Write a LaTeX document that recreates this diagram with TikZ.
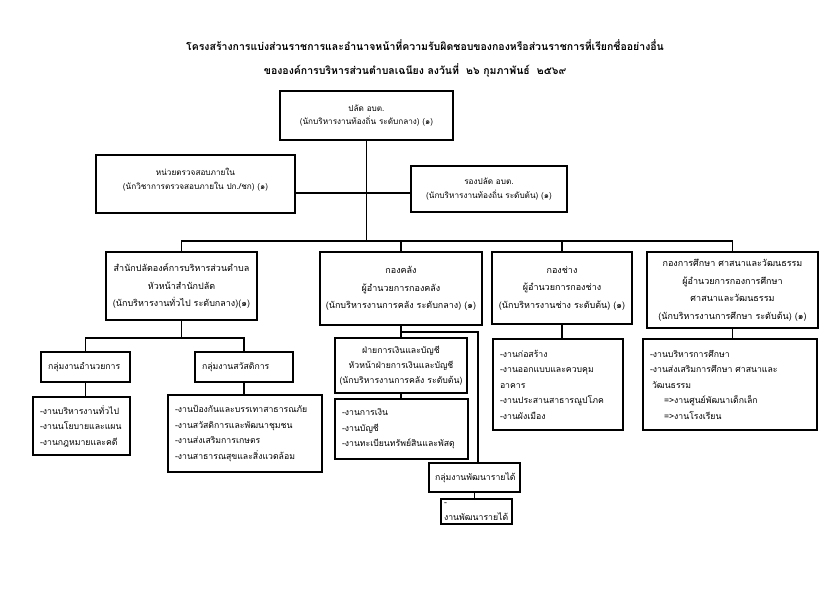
\documentclass[tikz,border=0pt]{standalone}
\usepackage{fontspec}
\newfontfamily\thai[Script=Thai]{Loma}
\tikzset{unit/.style={draw, line width=2.7pt, align=center, inner sep=2pt,
      font=\thai\fontsize{9}{17.5}\selectfont},
    small unit/.style={unit, font=\thai\fontsize{8.2}{13.5}\selectfont},
    tasks/.style={draw, line width=2.7pt, align=left, inner xsep=7pt,
      font=\thai\fontsize{8.7}{15.5}\selectfont},
    link/.style={line width=1.4pt},
    heading/.style={font=\thai\bfseries\fontsize{10.5}{14}\selectfont},
    }
\begin{document}
\begin{tikzpicture}[x=1pt,y=-1pt]
\useasboundingbox (0,0) rectangle (840,594);
% title
\node[heading] (title1) at (425,45) {โครงสร้างการแบ่งส่วนราชการและอำนาจหน้าที่ความรับผิดชอบของกองหรือส่วนราชการที่เรียกชื่ออย่างอื่น};
\node[heading] (title2) at (415,70) {ขององค์การบริหารส่วนตำบลเฉนียง ลงวันที่ \ ๒๖ กุมภาพันธ์ \ ๒๕๖๙};
% top
\node[small unit, minimum width=173, minimum height=49] (palad) at (366.5,115.5) {ปลัด อบต.\\(นักบริหารงานท้องถิ่น ระดับกลาง) (๑)};
\node[small unit, minimum width=199, minimum height=58] (audit) at (195.5,184) {หน่วยตรวจสอบภายใน\\(นักวิชาการตรวจสอบภายใน ปก./ชก) (๑)\\[-3pt]~};
\node[small unit, minimum width=156, minimum height=46] (deputy) at (489,189) {รองปลัด อบต.\\(นักบริหารงานท้องถิ่น ระดับต้น) (๑)};
% divisions
\node[unit, minimum width=151, minimum height=68] (office) at (181.5,286) {สำนักปลัดองค์การบริหารส่วนตำบล\\หัวหน้าสำนักปลัด\\(นักบริหารงานทั่วไป ระดับกลาง)(๑)};
\node[unit, minimum width=162, minimum height=73] (finance) at (401,288.5) {กองคลัง\\ผู้อำนวยการกองคลัง\\(นักบริหารงานการคลัง ระดับกลาง) (๑)};
\node[unit, minimum width=140, minimum height=72] (works) at (562,288) {กองช่าง\\ผู้อำนวยการกองช่าง\\(นักบริหารงานช่าง ระดับต้น) (๑)};
\node[unit, minimum width=171, minimum height=76] (edu) at (732.5,290) {กองการศึกษา ศาสนาและวัฒนธรรม\\ผู้อำนวยการกองการศึกษา\\ศาสนาและวัฒนธรรม\\(นักบริหารงานการศึกษา ระดับต้น) (๑)};
% groups
\node[tasks, text width=75, minimum height=30] (admin) at (85.5,367) {กลุ่มงานอำนวยการ};
\node[tasks, text width=84, minimum height=30] (welfare) at (244,367) {กลุ่มงานสวัสดิการ};
\node[unit, font=\thai\fontsize{8.7}{15}\selectfont, minimum width=132, minimum height=55] (acct) at (401,365.5) {ฝ่ายการเงินและบัญชี\\หัวหน้าฝ่ายการเงินและบัญชี\\(นักบริหารงานการคลัง ระดับต้น)};
\node[tasks, text width=79, inner xsep=6pt, minimum height=29] (revenue) at (474.5,477.5) {กลุ่มงานพัฒนารายได้};
% task lists
\node[tasks, text width=83, minimum height=58] (adminlist) at (81.5,426) {-งานบริหารงานทั่วไป\\-งานนโยบายและแผน\\-งานกฎหมายและคดี};
\node[tasks, text width=140, minimum height=77] (welfarelist) at (245,433.5) {-งานป้องกันและบรรเทาสาธารณภัย\\-งานสวัสดิการและพัฒนาชุมชน\\-งานส่งเสริมการเกษตร\\-งานสาธารณสุขและสิ่งแวดล้อม};
\node[tasks, text width=119, minimum height=60] (acctlist) at (401.5,429) {-งานการเงิน\\-งานบัญชี\\-งานทะเบียนทรัพย์สินและพัสดุ};
\node[tasks, text width=65, inner xsep=3pt, minimum height=23] (revlist) at (476.5,511.5) {-งานพัฒนารายได้};
\node[tasks, text width=116, minimum height=91] (workslist) at (558,384.5) {-งานก่อสร้าง\\-งานออกแบบและควบคุม\\อาคาร\\-งานประสานสาธารณูปโภค\\-งานผังเมือง};
\node[tasks, text width=160, minimum height=91] (edulist) at (730,384.5) {-งานบริหารการศึกษา\\-งานส่งเสริมการศึกษา ศาสนาและ\\\hspace*{2pt}วัฒนธรรม\\\hspace*{14pt}=>งานศูนย์พัฒนาเด็กเล็ก\\\hspace*{14pt}=>งานโรงเรียน};
% connectors
\coordinate (bus) at (0,241);
\coordinate (mid) at (0,193);
\coordinate (obus) at (0,338);
\coordinate (fbr) at (478,332);
\draw[link] (palad.south) -- (palad.south |- bus);
\draw[link] (audit.east |- mid) -- (deputy.west |- mid);
\draw[link] (office.north) -- (office.north |- bus) -- (edu.north |- bus) -- (edu.north);
\foreach \n in {finance,works}
  \draw[link] (\n.north) -- (\n.north |- bus);
\draw[link] (office.south) -- (office.south |- obus);
\draw[link] (admin.north) -- (admin.north |- obus) -- (welfare.north |- obus) -- (welfare.north);
\foreach \a/\b in {admin/adminlist,welfare/welfarelist,finance/acct,acct/acctlist,works/workslist,edu/edulist,revenue/revlist}
  \draw[link] (\a.south) -- (\a.south |- \b.north);
\draw[link] (finance.south |- fbr) -- (fbr) -- (fbr |- revenue.north);
\end{tikzpicture}
\end{document}
